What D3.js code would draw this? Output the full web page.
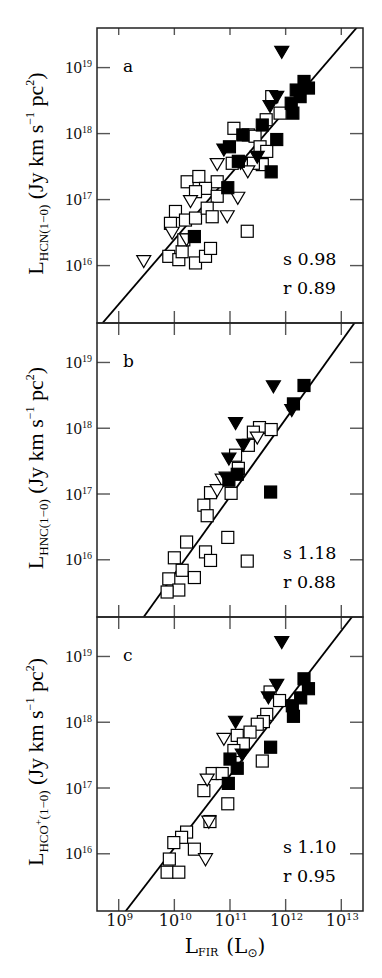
<!DOCTYPE html>
<html><head><meta charset="utf-8">
<script src="https://cdn.jsdelivr.net/npm/d3@7"></script>
<style>body{margin:0;background:#fff}</style>
</head><body>
<svg id="chart" width="382" height="978"></svg>
<script>
// ---------- DATA (log10 values) ----------
const panelLetters = ["a", "b", "c"];
const slopes = [0.98, 1.18, 1.10];
const corrs = [0.89, 0.88, 0.95];
const intercepts = [6.594, 3.98, 5.09];   // log L_mol = intercept + slope * log L_FIR
const xTickValues = [1e9, 1e10, 1e11, 1e12, 1e13];
const yTickValues = [1e16, 1e17, 1e18, 1e19];

// panel a (HCN) : [log L_FIR, log L_HCN]
const hcnOpenSquares = [[11.75,18.56],[11.07,18.08],[11.33,17.98],[11.45,17.96],[11.65,18.21],[11.54,17.80],[11.66,17.73],[11.04,17.55],[11.58,17.53],[11.42,17.55],[11.90,18.31],[10.23,17.27],[10.44,17.35],[10.77,17.27],[10.56,17.17],[10.77,17.05],[10.38,17.12],[10.02,16.82],[9.93,16.64],[10.20,16.69],[10.38,16.72],[10.59,16.87],[10.68,16.74],[9.90,16.14],[10.08,16.09],[10.14,16.21],[10.38,16.04],[10.56,16.14],[10.65,16.26],[11.31,16.52],[10.17,16.39]];
const hcnOpenTriangles = [[9.45,16.06],[9.96,16.49],[10.22,16.39],[10.29,16.97],[10.77,17.53],[10.95,16.74],[11.14,17.02],[11.32,17.42]];
const hcnFilledSquares = [[12.33,18.79],[12.41,18.69],[12.19,18.66],[12.26,18.56],[12.10,18.46],[12.13,18.31],[11.58,18.13],[11.84,17.91],[11.23,17.98],[10.99,17.80],[11.15,17.58],[11.74,17.42],[10.96,17.18],[10.36,16.44]];
const hcnFilledTriangles = [[11.93,19.23],[11.84,18.55],[11.72,18.41],[10.89,17.75],[11.19,17.55],[11.49,17.64]];

// panel b (HNC)
const hncOpenSquares = [[11.53,18.01],[11.74,17.98],[11.42,17.94],[11.33,17.74],[11.10,17.59],[11.15,17.39],[11.02,17.01],[10.65,17.02],[10.53,16.83],[10.59,16.67],[10.22,16.27],[10.96,16.34],[10.00,16.03],[10.56,16.12],[10.65,15.99],[11.31,15.98],[10.14,15.84],[10.36,15.73],[9.90,15.71],[10.08,15.54],[9.87,15.51]];
const hncOpenTriangles = [[10.86,17.21],[11.49,17.85],[10.77,17.05]];
const hncFilledSquares = [[12.33,18.65],[12.14,18.37],[11.73,17.03],[10.98,17.21],[11.13,17.30]];
const hncFilledTriangles = [[11.78,18.63],[11.10,18.07],[11.24,17.74],[10.98,17.53],[12.11,18.27],[10.93,17.24]];

// panel c (HCO+)
const hcoOpenSquares = [[11.72,18.46],[11.89,18.33],[11.66,18.12],[11.60,18.01],[11.49,17.97],[11.36,17.85],[11.13,17.80],[11.24,17.67],[11.07,17.57],[11.58,17.41],[10.68,17.22],[10.86,17.22],[10.53,16.96],[10.96,16.76],[10.64,16.49],[10.22,16.33],[10.13,16.25],[9.99,16.17],[10.36,16.07],[9.91,15.92],[9.87,15.72],[10.08,15.72]];
const hcoOpenTriangles = [[10.89,17.74],[10.59,17.12],[10.62,16.48],[10.56,15.91]];
const hcoFilledSquares = [[12.33,18.66],[12.41,18.51],[12.27,18.37],[12.12,18.25],[12.14,18.09],[11.73,17.62],[11.00,17.44],[11.13,17.30],[10.97,17.07]];
const hcoFilledTriangles = [[11.93,19.21],[11.84,18.56],[11.69,18.37],[11.10,18.00],[11.22,17.50]];

const panelsData = [
  {os: hcnOpenSquares, ot: hcnOpenTriangles, fs: hcnFilledSquares, ft: hcnFilledTriangles, mol: "HCN", plus: false},
  {os: hncOpenSquares, ot: hncOpenTriangles, fs: hncFilledSquares, ft: hncFilledTriangles, mol: "HNC", plus: false},
  {os: hcoOpenSquares, ot: hcoOpenTriangles, fs: hcoFilledSquares, ft: hcoFilledTriangles, mol: "HCO", plus: true}
];

// ---------- LAYOUT ----------
const svg = d3.select("#chart");
const left = 97, right = 363;
const tops = [28, 323, 617], bottoms = [323, 617, 911];
const x = d3.scaleLog().domain([Math.pow(10, 8.61), Math.pow(10, 13.39)]).range([left, right]);
const serif = "'DejaVu Serif', serif";
const tickSerif = "'Liberation Serif', serif";

panelsData.forEach((pd, i) => {
  const top = tops[i], bot = bottoms[i];
  const y = d3.scaleLog().domain([Math.pow(10, 15.13), Math.pow(10, 19.6)]).range([bot, top]);
  const g = svg.append("g");
  const clipId = "clip" + i;
  svg.append("clipPath").attr("id", clipId).append("rect")
    .attr("x", left).attr("y", top).attr("width", right - left).attr("height", bot - top);

  // ticks (inward, all four sides)
  const tk = g.append("g").attr("stroke", "#555").attr("stroke-width", 1.4);
  xTickValues.forEach(v => {
    tk.append("line").attr("x1", x(v)).attr("x2", x(v)).attr("y1", bot).attr("y2", bot - 12);
    tk.append("line").attr("x1", x(v)).attr("x2", x(v)).attr("y1", top).attr("y2", top + (i === 0 ? 7 : 12));
  });
  yTickValues.forEach(v => {
    tk.append("line").attr("x1", left).attr("x2", left + 13).attr("y1", y(v)).attr("y2", y(v));
    tk.append("line").attr("x1", right).attr("x2", right - 13).attr("y1", y(v)).attr("y2", y(v));
  });

  // y tick labels
  yTickValues.forEach(v => {
    const t = g.append("text").attr("x", 92).attr("y", y(v) + 5.5)
      .attr("text-anchor", "end").attr("font-family", tickSerif).attr("font-size", 17).attr("fill", "#111");
    t.append("tspan").text("10");
    t.append("tspan").attr("font-size", 10).attr("dy", -6).text(Math.round(Math.log10(v)));
  });

  // fit line
  const lx = [Math.pow(10, 8.61), Math.pow(10, 13.39)];
  const line = d3.line().x(d => x(d)).y(d => y(Math.pow(10, intercepts[i] + slopes[i] * Math.log10(d))));
  g.append("path").datum(lx).attr("d", line).attr("clip-path", `url(#${clipId})`)
    .attr("fill", "none").attr("stroke", "#000").attr("stroke-width", 1.8);

  // markers
  const m = g.append("g").attr("clip-path", `url(#${clipId})`);
  const sq = (arr, fill) => m.selectAll(null).data(arr).enter().append("rect")
    .attr("x", d => x(Math.pow(10, d[0])) - 6).attr("y", d => y(Math.pow(10, d[1])) - 6)
    .attr("width", 12).attr("height", 12)
    .attr("fill", fill).attr("stroke", "#000").attr("stroke-width", 1.2);
  const tri = (arr, fill) => m.selectAll(null).data(arr).enter().append("path")
    .attr("d", d => {
      const cx = x(Math.pow(10, d[0])), cy = y(Math.pow(10, d[1]));
      return `M${cx - 7},${cy - 6}L${cx + 7},${cy - 6}L${cx},${cy + 6}Z`;
    })
    .attr("fill", fill).attr("stroke", "#000").attr("stroke-width", 1.2).attr("stroke-linejoin", "miter");
  sq(pd.os, "#fff");
  tri(pd.ot, "#fff");
  sq(pd.fs, "#000");
  tri(pd.ft, "#000");

  // panel letter and stats
  g.append("text").attr("x", 123).attr("y", top + 44).attr("font-family", serif).attr("font-size", 17).text(panelLetters[i]);
  g.append("text").attr("x", 283).attr("y", bot - 58).attr("font-family", serif).attr("font-size", 17.5).text("s " + slopes[i].toFixed(2));
  g.append("text").attr("x", 283).attr("y", bot - 29).attr("font-family", serif).attr("font-size", 17.5).text("r " + corrs[i].toFixed(2));

  // y axis title
  const yt = g.append("text").attr("transform", `translate(43,${(top + bot) / 2 - 2}) rotate(-90)`)
    .attr("text-anchor", "middle").attr("font-family", tickSerif).attr("font-size", 22);
  yt.append("tspan").text("L");
  yt.append("tspan").attr("font-size", 13).attr("dy", 5).text(pd.mol);
  if (pd.plus) {
    yt.append("tspan").attr("font-size", 10).attr("dy", -6).text("+");
    yt.append("tspan").attr("font-size", 13).attr("dy", 6).text("(1\u22120)");
  } else {
    yt.append("tspan").attr("font-size", 13).text("(1\u22120)");
  }
  yt.append("tspan").attr("dy", -5).text(" (Jy km s");
  yt.append("tspan").attr("font-size", 12).attr("dy", -9).text("\u22121");
  yt.append("tspan").attr("dy", 9).text(" pc");
  yt.append("tspan").attr("font-size", 12).attr("dy", -9).text("2");
  yt.append("tspan").attr("dy", 9).text(")");

  // frame
  g.append("rect").attr("x", left).attr("y", top).attr("width", right - left).attr("height", bot - top)
    .attr("fill", "none").attr("stroke", "#222").attr("stroke-width", 1.5);
});

// x tick labels (bottom panel only)
xTickValues.forEach(v => {
  const t = svg.append("text").attr("x", x(v) + 1).attr("y", 926).attr("text-anchor", "middle")
    .attr("font-family", serif).attr("font-size", 16).attr("fill", "#111");
  t.append("tspan").text("10");
  t.append("tspan").attr("font-size", 10).attr("dy", -6).text(Math.round(Math.log10(v)));
});

// x axis title
const xt = svg.append("text").attr("x", 225).attr("y", 953).attr("text-anchor", "middle")
  .attr("font-family", serif).attr("font-size", 20);
xt.append("tspan").text("L");
xt.append("tspan").attr("font-size", 11).attr("dy", 3).text("FIR");
xt.append("tspan").attr("dy", -3).attr("dx", 8).text("(L");
xt.append("tspan").attr("font-size", 12).attr("dy", 4).attr("font-family", "'DejaVu Sans', sans-serif").text("\u2299");
xt.append("tspan").attr("dy", -4).text(")");
</script>
</body></html>
